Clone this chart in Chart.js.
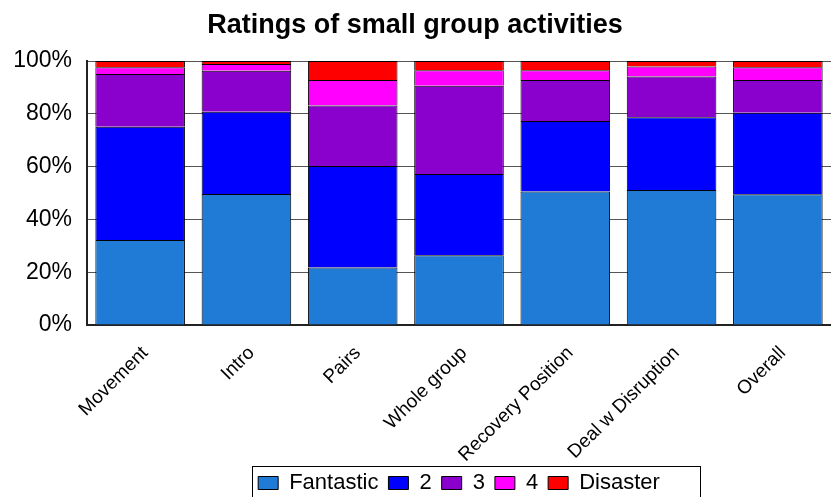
<!DOCTYPE html>
<html>
<head>
<meta charset="utf-8">
<title>Ratings of small group activities</title>
<script src="https://cdn.jsdelivr.net/npm/chart.js@4/dist/chart.umd.min.js"></script>
<style>
  html, body { margin: 0; padding: 0; background: #fff; overflow: hidden; }
  #wrap { width: 831px; height: 497px; }
</style>
</head>
<body>
<div id="wrap"><canvas id="chart" width="831" height="497"></canvas></div>
<script>
// Percentages (each column sums to 100).
const CATEGORIES = ["Movement", "Intro", "Pairs", "Whole group", "Recovery Position", "Deal w Disruption", "Overall"];
const FANTASTIC = [32.2, 49.6, 21.8, 26.4, 50.6, 51.1, 49.5];
const RATING_2 = [42.9, 31.2, 38.4, 30.8, 26.7, 27.6, 30.9];
const RATING_3 = [20.0, 15.5, 22.9, 33.4, 15.5, 15.4, 12.4];
const RATING_4 = [2.5, 2.6, 9.7, 5.9, 3.7, 3.8, 4.8];
const DISASTER = [2.4, 1.1, 7.2, 3.5, 3.5, 2.1, 2.4];
const Y_TICKS = [0, 20, 40, 60, 80, 100];

const FONT = "Arial, 'Liberation Sans', sans-serif";
const INK = "#000000";
const FRAME = "#222222";
const GRID = "#555555";

// Excel-ish palette from the original sheet.
const SERIES = [
  { label: "Fantastic", data: FANTASTIC, color: "#1f7bd6" },
  { label: "2", data: RATING_2, color: "#0000ff" },
  { label: "3", data: RATING_3, color: "#8a00cc" },
  { label: "4", data: RATING_4, color: "#ff00ff" },
  { label: "Disaster", data: DISASTER, color: "#ff0000" },
];

// The legend in the original sits in a thin black box that runs off the bottom edge.
const legendFrame = {
  id: "legendFrame",
  afterDraw(chart) {
    const lg = chart.legend;
    if (!lg || !lg.legendHitBoxes || !lg.legendHitBoxes.length) return;
    const boxes = lg.legendHitBoxes;
    const first = boxes[0];
    const last = boxes[boxes.length - 1];
    const ctx = chart.ctx;
    ctx.save();
    ctx.strokeStyle = INK;
    ctx.lineWidth = 1;
    const left = Math.round(first.left - 6) + 0.5;
    const right = Math.round(last.left + last.width + 40) + 0.5;
    const top = Math.round(lg.top + 4) + 0.5;
    ctx.strokeRect(left, top, right - left, chart.height - top + 20);
    ctx.restore();
  },
};

new Chart(document.getElementById("chart"), {
  type: "bar",
  data: {
    labels: CATEGORIES,
    datasets: SERIES.map((s) => ({
      label: s.label,
      data: s.data,
      backgroundColor: s.color,
      borderColor: INK,
      borderWidth: 1,
      categoryPercentage: 1,
      barPercentage: 0.843,
    })),
  },
  options: {
    responsive: false,
    animation: false,
    // the original picture is cropped on the right and at the bottom
    layout: { padding: { left: -13, right: -12, top: 0, bottom: -7 } },
    plugins: {
      title: {
        display: true,
        text: "Ratings of small group activities",
        color: INK,
        font: { family: FONT, size: 27, weight: "bold" },
        padding: { top: 9, bottom: 19.6 },
      },
      legend: {
        position: "bottom",
        fullSize: false,
        labels: {
          color: INK,
          font: { family: FONT, size: 22 },
          boxWidth: 20,
          boxHeight: 13,
          padding: 10,
        },
      },
      tooltip: { enabled: false },
    },
    scales: {
      x: {
        stacked: true,
        grid: { display: false, drawTicks: false },
        border: { display: true, color: FRAME, width: 2 },
        ticks: {
          color: INK,
          font: { family: FONT, size: 19 },
          minRotation: 45,
          maxRotation: 45,
          autoSkip: false,
          padding: 17,
          labelOffset: 5,
        },
        afterFit: (scale) => { scale.height = 137; },
      },
      y: {
        stacked: true,
        min: Y_TICKS[0],
        max: Y_TICKS[Y_TICKS.length - 1],
        afterBuildTicks: (scale) => { scale.ticks = Y_TICKS.map((v) => ({ value: v })); },
        grid: { color: GRID, lineWidth: 1, drawTicks: false },
        border: { display: true, color: FRAME, width: 2 },
        ticks: {
          color: INK,
          font: { family: FONT, size: 23 },
          padding: 15,
          callback: (v) => v + "%",
        },
        afterFit: (scale) => { scale.width = 100; },
      },
    },
  },
  plugins: [legendFrame],
});
</script>
</body>
</html>
